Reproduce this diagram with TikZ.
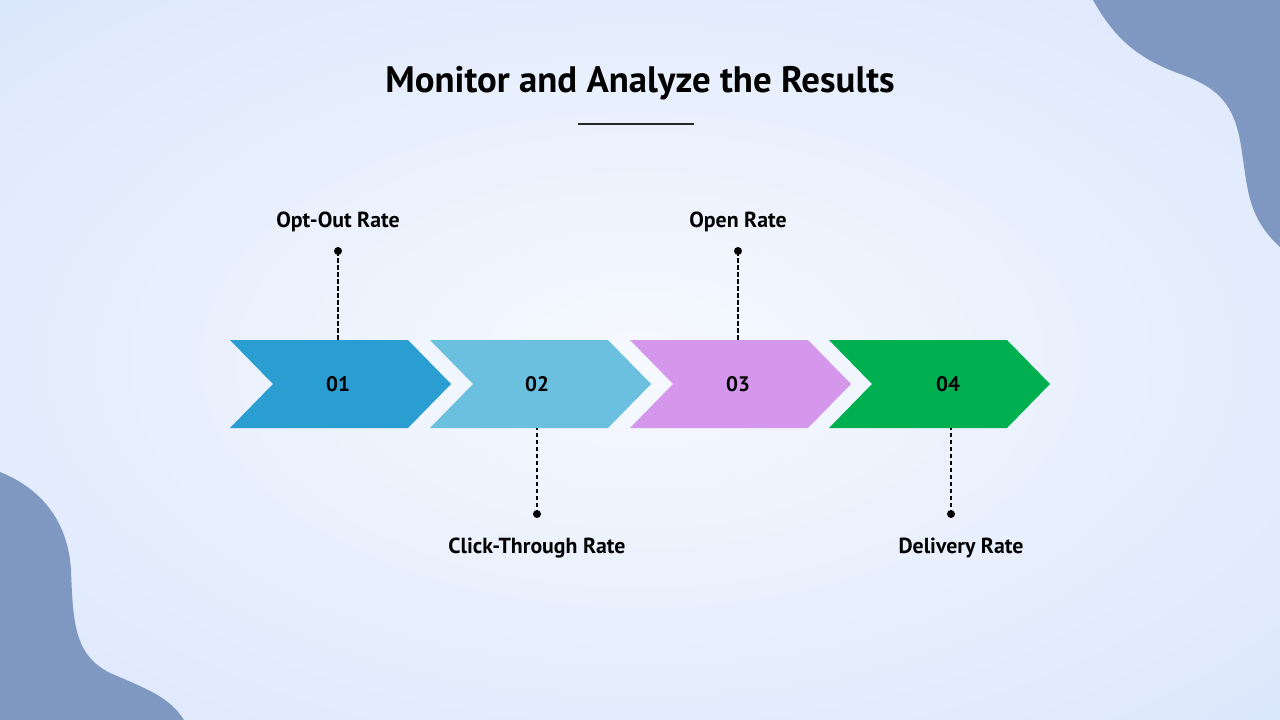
\documentclass[tikz,border=0pt]{standalone}
\usepackage{fontspec}
\setmainfont{PT Sans}
\definecolor{bgin}{HTML}{F6F9FE}
\definecolor{bgmid}{HTML}{E6EEFD}
\definecolor{bgout}{HTML}{D2E1FB}
\definecolor{blob}{HTML}{7E98C1}
\definecolor{cA}{HTML}{2A9ED0}
\definecolor{cB}{HTML}{6BC0DF}
\definecolor{cC}{HTML}{D497EB}
\definecolor{cD}{HTML}{00B050}
\pgfdeclareradialshading{bgshade}{\pgfpoint{0bp}{0bp}}{color(0bp)=(bgin); color(22bp)=(bgmid); color(48bp)=(bgout); color(75bp)=(bgout)}
\tikzset{
  chev/.style={fill=#1, draw=none},
  numtxt/.style={font=\bfseries\fontsize{21}{23}\selectfont, text=black},
  lbl/.style={font=\bfseries\fontsize{21.8}{24}\selectfont, text=black},
  conn/.style={draw=black, line width=1.4pt, dash pattern=on 4.5pt off 2.5pt},
  dotn/.style={circle, fill=black, inner sep=0pt, minimum size=8pt},
}
\begin{document}
\begin{tikzpicture}[x=1pt,y=-1pt]
\useasboundingbox (0,0) rectangle (1280,720);
\shade[shading=bgshade] (0,0) rectangle (1280,720);
% blobs
\fill[blob] (1280,0) -- (1093,0) .. controls (1110,30) and (1130,55) .. (1175,72)
  .. controls (1215,86) and (1232,100) .. (1240,140)
  .. controls (1248,185) and (1245,215) .. (1280,247) -- cycle;
\fill[blob] (0,720) -- (0,472) .. controls (40,488) and (68,520) .. (71,570)
  .. controls (73,625) and (75,655) .. (110,673)
  .. controls (150,690) and (170,698) .. (184,720) -- cycle;
% title
\node[font=\bfseries\fontsize{36.8}{40}\selectfont] (title) at (640,83) {Monitor and Analyze the Results};
\draw[line width=2pt, draw=black!85] (578,124) -- (694,124);
% chevrons
\foreach \L/\c in {230/cA,430/cB,630/cC,829/cD}{
  \fill[chev=\c] (\L,340) -- (\L+178,340) -- (\L+221,384) -- (\L+178,428) -- (\L,428) -- (\L+43,384) -- cycle;
}
\node[numtxt] (n1) at (338,384) {01};
\node[numtxt] (n2) at (537,384) {02};
\node[numtxt] (n3) at (738,384) {03};
\node[numtxt] (n4) at (948,384) {04};
% anchors on chevrons
\coordinate (t1) at (338,340);
\coordinate (b2) at (537,428);
\coordinate (t3) at (738,340);
\coordinate (b4) at (951,428);
% dots
\node[dotn] (d1) at (338,251) {};
\node[dotn] (d2) at (537,514) {};
\node[dotn] (d3) at (738,251) {};
\node[dotn] (d4) at (951,514) {};
\draw[conn] (d1.center) -- (t1);
\draw[conn] (d2.center) -- (b2);
\draw[conn] (d3.center) -- (t3);
\draw[conn] (d4.center) -- (b4);
% labels
\node[lbl] (l1) at (338,222) {Opt-Out Rate};
\node[lbl] (l2) at (537,548) {Click-Through Rate};
\node[lbl] (l3) at (738,222) {Open Rate};
\node[lbl] (l4) at (961,548) {Delivery Rate};
\end{tikzpicture}
\end{document}
